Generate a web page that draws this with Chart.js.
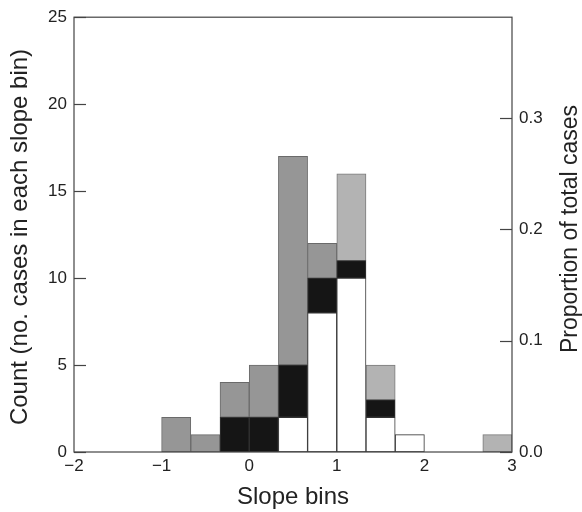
<!DOCTYPE html>
<html>
<head>
<meta charset="utf-8">
<script src="https://cdn.jsdelivr.net/npm/chart.js@4.4.1/dist/chart.umd.min.js"></script>
<style>
  html, body { margin: 0; padding: 0; background: #fff; }
  #wrap { width: 582px; height: 512px; }
</style>
</head>
<body>
<div id="wrap"><canvas id="c" width="582" height="512"></canvas></div>
<script>
// left edges of the slope bins (width 1/3)
const binLeft = [-1, -2 / 3, -1 / 3, 0, 1 / 3, 2 / 3, 1, 4 / 3, 5 / 3, 2, 7 / 3, 8 / 3];
const binWidth = 1 / 3;

// counts per bin, stacked bottom -> top
const whiteCounts = [null, null, null, null, 2, 8, 10, 2, 1, null, null, null];
const blackCounts = [null, null, 2, 2, 3, 2, 1, 1, null, null, null, null];
const darkGreyCounts = [2, 1, 2, 3, 12, 2, null, null, null, null, null, null];
const lightGreyCounts = [null, null, null, null, null, null, 5, 2, null, null, null, 1];

const totalCases = 64;
const countMax = 25;
const countTicks = [0, 5, 10, 15, 20, 25];
const propTicks = [0, 0.1, 0.2, 0.3];
const xTicks = [-2, -1, 0, 1, 2, 3];

const leftTitle = "Count (no. cases in each slope bin)";
const rightTitle = "Proportion of total cases";

const FONT = "'Liberation Sans', Arial, Helvetica, sans-serif";
const INK = "#222";
const TICK_FONT = { family: FONT, size: 17 };

function toPoints(vals) {
  return vals.map((v, i) => ({ x: binLeft[i] + binWidth / 2, y: v }));
}

function barSet(label, vals, fill, border) {
  return {
    label: label,
    data: toPoints(vals),
    backgroundColor: fill,
    borderColor: border,
    borderWidth: 1,
    borderSkipped: false,
    barPercentage: 1,
    categoryPercentage: 1,
    yAxisID: "y",
  };
}

function vText(ctx, text, x, y, size) {
  ctx.save();
  ctx.font = size + "px " + FONT;
  ctx.translate(x, y);
  ctx.rotate(-Math.PI / 2);
  ctx.fillText(text, 0, 0);
  ctx.restore();
}

// frame, inward tick marks and the two vertical titles (both read bottom -> top)
const frame = {
  id: "frame",
  afterDraw(chart) {
    const ctx = chart.ctx;
    const a = chart.chartArea;
    const y = chart.scales.y;
    const y1 = chart.scales.y1;
    ctx.save();
    ctx.strokeStyle = "#444";
    ctx.lineWidth = 1.2;
    ctx.strokeRect(a.left, a.top, a.right - a.left, a.bottom - a.top);
    countTicks.forEach((v) => {
      const p = Math.round(y.getPixelForValue(v)) + 0.5;
      ctx.beginPath();
      ctx.moveTo(a.left, p);
      ctx.lineTo(a.left + 12, p);
      ctx.stroke();
    });
    propTicks.forEach((v) => {
      const p = Math.round(y1.getPixelForValue(v)) + 0.5;
      ctx.beginPath();
      ctx.moveTo(a.right, p);
      ctx.lineTo(a.right - 12, p);
      ctx.stroke();
    });

    ctx.fillStyle = INK;
    ctx.textAlign = "center";
    ctx.textBaseline = "middle";
    vText(ctx, leftTitle, 20, 237, 24);
    vText(ctx, rightTitle, 571, 229, 23);
    ctx.restore();
  },
};

new Chart(document.getElementById("c"), {
  type: "bar",
  data: {
    datasets: [
      barSet("white", whiteCounts, "#ffffff", "#333"),
      barSet("black", blackCounts, "#151515", "#333"),
      barSet("dark grey", darkGreyCounts, "#969696", "#6a6a6a"),
      barSet("light grey", lightGreyCounts, "#b3b3b3", "#7a7a7a"),
    ],
  },
  options: {
    responsive: false,
    animation: false,
    layout: { padding: { top: 13, left: 0, right: 0, bottom: 0 } },
    plugins: { legend: { display: false }, tooltip: { enabled: false } },
    scales: {
      x: {
        type: "linear",
        min: -2,
        max: 3,
        stacked: true,
        offset: false,
        afterBuildTicks: (s) => { s.ticks = xTicks.map((v) => ({ value: v })); },
        afterFit: (s) => { s.height = 60; },
        grid: { display: false, drawTicks: false },
        border: { display: false },
        ticks: {
          color: INK,
          font: TICK_FONT,
          padding: 4,
          maxRotation: 0,
          callback: (v) => String(v).replace("-", "\u2212"),
        },
        title: {
          display: true,
          text: "Slope bins",
          color: INK,
          font: { family: FONT, size: 24 },
          padding: { top: 0, bottom: 0 },
        },
      },
      y: {
        type: "linear",
        position: "left",
        min: 0,
        max: countMax,
        stacked: true,
        afterBuildTicks: (s) => { s.ticks = countTicks.map((v) => ({ value: v })); },
        afterFit: (s) => { s.width = 74; },
        grid: { display: false, drawTicks: false },
        border: { display: false },
        ticks: { color: INK, font: TICK_FONT, padding: 7 },
      },
      y1: {
        type: "linear",
        position: "right",
        display: true,
        min: 0,
        max: countMax / totalCases,
        afterBuildTicks: (s) => { s.ticks = propTicks.map((v) => ({ value: v })); },
        afterFit: (s) => { s.width = 70; },
        grid: { display: false, drawTicks: false },
        border: { display: false },
        ticks: {
          color: INK,
          font: TICK_FONT,
          padding: 7,
          callback: (v) => v.toFixed(1),
        },
      },
    },
  },
  plugins: [frame],
});
</script>
</body>
</html>
